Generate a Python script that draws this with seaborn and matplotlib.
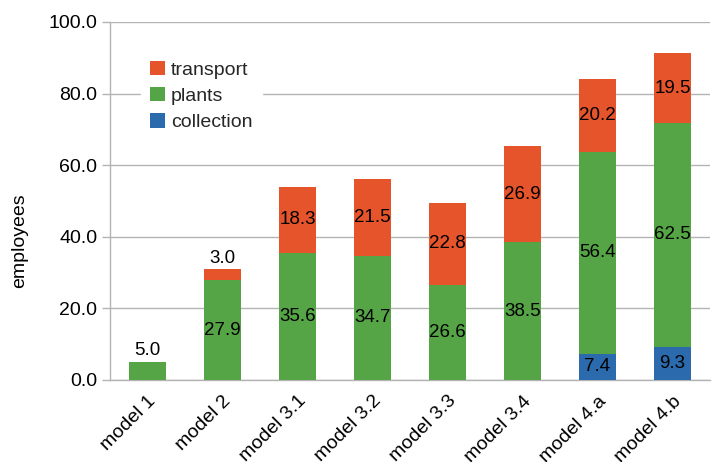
import matplotlib
matplotlib.use("Agg")
import matplotlib.pyplot as plt
import seaborn as sns
import pandas as pd
import numpy as np

models = ["model 1", "model 2", "model 3.1", "model 3.2", "model 3.3",
          "model 3.4", "model 4.a", "model 4.b"]
collection = [0.0, 0.0, 0.0, 0.0, 0.0, 0.0, 7.4, 9.3]
plants = [5.0, 27.9, 35.6, 34.7, 26.6, 38.5, 56.4, 62.5]
transport = [0.0, 3.0, 18.3, 21.5, 22.8, 26.9, 20.2, 19.5]

sns.set_theme(style="white")
plt.rcParams["font.family"] = ["Liberation Sans", "DejaVu Sans"]

colors = {"collection": "#2a6aad", "plants": "#55a546", "transport": "#e5542a"}
FS = 14

df = pd.DataFrame({"model": models, "collection": collection,
                   "plants": plants, "transport": transport})
df["lvl1"] = df["collection"]
df["lvl2"] = df["collection"] + df["plants"]
df["lvl3"] = df["lvl2"] + df["transport"]

fig = plt.figure(figsize=(7.16, 4.62), dpi=100)
ax = fig.add_axes([110 / 716, 1 - 380 / 462, 600 / 716, 358 / 462])

# stacked bars drawn as overlapping cumulative totals
for col, key in [("lvl3", "transport"), ("lvl2", "plants"), ("lvl1", "collection")]:
    sns.barplot(data=df, x="model", y=col, color=colors[key], width=0.5,
                saturation=1, ax=ax, errorbar=None, label=key, zorder=3,
                linewidth=0, edgecolor="none")

# value labels
for i in range(len(models)):
    segs = [(0.0, collection[i]), (collection[i], plants[i]),
            (collection[i] + plants[i], transport[i])]
    for base, val in segs:
        if val <= 0:
            continue
        if val < 6:
            ax.text(i, base + val + 0.8, f"{val:.1f}", ha="center", va="bottom",
                    fontsize=FS - 0.5, color="black", zorder=5)
        else:
            ax.text(i, base + val / 2, f"{val:.1f}", ha="center", va="center",
                    fontsize=FS - 0.5, color="black", zorder=5)

ax.set_xlim(-0.5, len(models) - 0.5)
ax.set_ylim(0, 100)
ax.set_yticks(np.arange(0, 101, 20))
ax.set_yticklabels([f"{v:.1f}" for v in np.arange(0, 101, 20)], fontsize=FS,
                   color="black")
ax.yaxis.grid(True, color="#b3b3b3", linewidth=1, zorder=0)
ax.set_axisbelow(True)

ax.set_xticks(range(len(models)))
ax.set_xticklabels(models, rotation=45, ha="right", va="top",
                   rotation_mode="anchor", fontsize=FS, color="black")
ax.set_xticks(np.arange(-0.5, len(models), 1), minor=True)
ax.tick_params(axis="x", which="major", length=0, pad=9)
ax.tick_params(axis="x", which="minor", length=6, color="#b3b3b3", width=1)
ax.tick_params(axis="y", which="major", length=6, color="#b3b3b3", width=1,
               left=True, pad=3)

for s in ["top", "right"]:
    ax.spines[s].set_visible(False)
for s in ["left", "bottom"]:
    ax.spines[s].set_color("#b3b3b3")
    ax.spines[s].set_linewidth(1)

ax.set_xlabel("")
ax.set_ylabel("employees", fontsize=FS, color="black")
ax.yaxis.set_label_coords(-0.137, 0.39)

handles, labels = ax.get_legend_handles_labels()
order = ["transport", "plants", "collection"]
hmap = dict(zip(labels, handles))
leg = ax.legend([hmap[k] for k in order], order, loc="upper left",
                bbox_to_anchor=(0.035, 0.945), frameon=True, fontsize=FS,
                handlelength=0.75, handleheight=0.75, handletextpad=0.3,
                labelspacing=0.42, borderpad=0.5, fancybox=False)
leg.get_frame().set_edgecolor("white")
leg.get_frame().set_facecolor("white")
leg.get_frame().set_alpha(1)

fig.savefig("out.png", dpi=100)
